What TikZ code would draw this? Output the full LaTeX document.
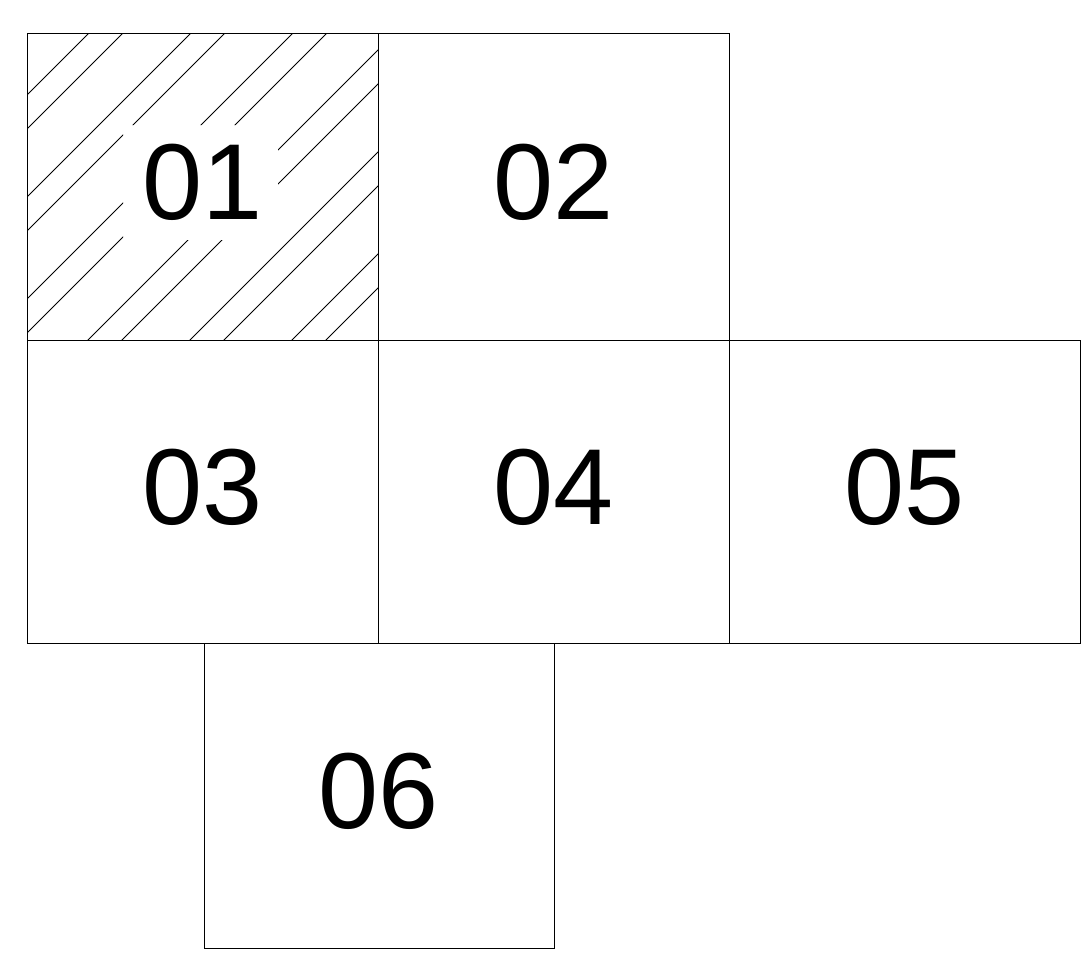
\documentclass[tikz,border=0pt]{standalone}
\usepackage{fontspec}
\setmainfont{Liberation Sans}
\begin{document}
\begin{tikzpicture}[x=1pt,y=-1pt,
  cell/.style={draw=black,line width=1pt,inner sep=0pt,text depth=10pt,font=\fontsize{108}{108}\selectfont},
  hatch/.style={line width=0.8pt}]
\useasboundingbox (0,0) rectangle (1083,966);
% hatching in cell 01
\begin{scope}[even odd rule]
  \clip (27,34) rectangle (378,340) (123,125) rectangle (278,240);
  \foreach \c in {122,156,224,258,326,360,428,462,530,564,632,666}{
    \draw[hatch] (\c,0) -- (\c-420,420);
  }
\end{scope}
\node[cell,minimum width=351pt,minimum height=306pt] (c01) at (202.5,187) {01};
\node[cell,minimum width=351pt,minimum height=306pt] (c02) at (553.5,187) {02};
\node[cell,minimum width=351pt,minimum height=303pt] (c03) at (202.5,491.5) {03};
\node[cell,minimum width=351pt,minimum height=303pt] (c04) at (553.5,491.5) {04};
\node[cell,minimum width=351pt,minimum height=303pt] (c05) at (904.5,491.5) {05};
\node[cell,minimum width=350pt,minimum height=305pt] (c06) at (379,795.5) {06};
\end{tikzpicture}
\end{document}
